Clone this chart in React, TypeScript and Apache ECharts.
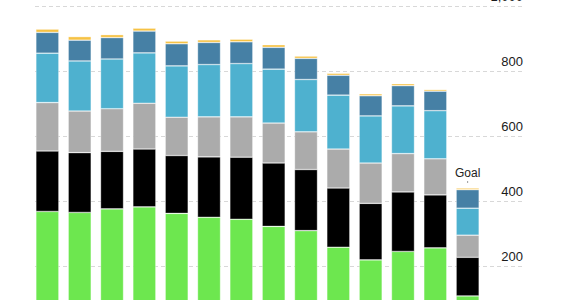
import React, { useEffect, useRef } from "react";
import * as echarts from "echarts";

// Stacked totals per period, bottom segment first, plus the goal column
const categories = ["1", "2", "3", "4", "5", "6", "7", "8", "9", "10", "11", "12", "13", "Goal"];
const greenValues = [370, 367, 378, 384, 364, 352, 346, 324, 311, 260, 221, 247, 258, 110];
const blackValues = [186, 184, 177, 178, 178, 186, 191, 195, 188, 182, 174, 183, 163, 119];
const grayValues = [149, 128, 131, 141, 118, 123, 124, 123, 116, 120, 124, 118, 111, 68];
const lightBlueValues = [152, 154, 153, 155, 158, 161, 164, 166, 161, 166, 145, 147, 148, 83];
const steelValues = [64, 64, 66, 67, 68, 68, 67, 67, 65, 61, 62, 62, 60, 57];
const yellowValues = [10, 11, 9, 9, 8, 8, 8, 8, 7, 6, 6, 6, 5, 5];
const goalLabel = "Goal";

const FONT = "'Helvetica Neue', Helvetica, 'Liberation Sans', Arial, sans-serif";

export default function App() {
  const ref = useRef<HTMLDivElement>(null);

  useEffect(() => {
    if (!ref.current) return;
    const chart = echarts.init(ref.current, undefined, { renderer: "svg" });

    const layers = [
      { name: "green", color: "#6de74f", data: greenValues },
      { name: "black", color: "#000000", data: blackValues },
      { name: "gray", color: "#ababab", data: grayValues },
      { name: "lightblue", color: "#4eb1cf", data: lightBlueValues },
      { name: "steel", color: "#4680a5", data: steelValues },
      { name: "yellow", color: "#f6c244", data: yellowValues },
    ];
    const lastIdx = categories.length - 1;

    const series = layers.map((l, li) => ({
      type: "bar" as const,
      name: l.name,
      stack: "total",
      xAxisIndex: 1,
      yAxisIndex: 1,
      barWidth: 23,
      itemStyle: {
        color: l.color,
        borderColor: "rgba(255,255,255,0.55)",
        borderWidth: 0.6,
      },
      data: l.data.map((v, i) => {
        if (li === layers.length - 1 && i === lastIdx) {
          return {
            value: v,
            label: {
              show: true,
              position: "top",
              distance: 3,
              formatter: "{g|" + goalLabel + "}\n{t|}",
              rich: {
                g: { fontSize: 12, fontFamily: FONT, color: "#222", lineHeight: 13, align: "center" },
                t: { width: 1, height: 2, backgroundColor: "#9a9a9a", lineHeight: 6, align: "center" },
              },
            },
          };
        }
        return v;
      }),
    }));

    chart.setOption({
      animation: false,
      grid: [
        { left: 35, right: 62, top: 6.7, bottom: 8.3, outerBoundsMode: "none", containLabel: false },
        { left: 31.2, right: 101.2, top: 6.7, bottom: 8.3, outerBoundsMode: "none", containLabel: false },
      ],
      xAxis: [
        { type: "category", gridIndex: 0, data: categories, show: false },
        { type: "category", gridIndex: 1, data: categories, show: false },
      ],
      yAxis: [
        {
          type: "value",
          gridIndex: 0,
          position: "right",
          min: 0,
          max: 1000,
          interval: 200,
          axisLine: { show: false },
          axisTick: { show: false },
          splitLine: { show: true, lineStyle: { color: "#d8d8d8", type: [4, 3], width: 1 } },
          axisLabel: {
            inside: true,
            margin: 0,
            fontSize: 13,
            fontFamily: FONT,
            color: "#1a1a1a",
            verticalAlign: "bottom",
            padding: [0, 0, 4, 0],
            formatter: (v: number) => (v === 0 ? "" : v.toLocaleString("en-US")),
          },
        },
        { type: "value", gridIndex: 1, min: 0, max: 1000, show: false, splitLine: { show: false } },
      ],
      series,
    });

    return () => chart.dispose();
  }, []);

  return (
    <div style={{ position: "fixed", left: 0, top: 0, width: 585, height: 300, overflow: "hidden", background: "#fff" }}>
      <div ref={ref} style={{ width: 585, height: 340 }} />
    </div>
  );
}
